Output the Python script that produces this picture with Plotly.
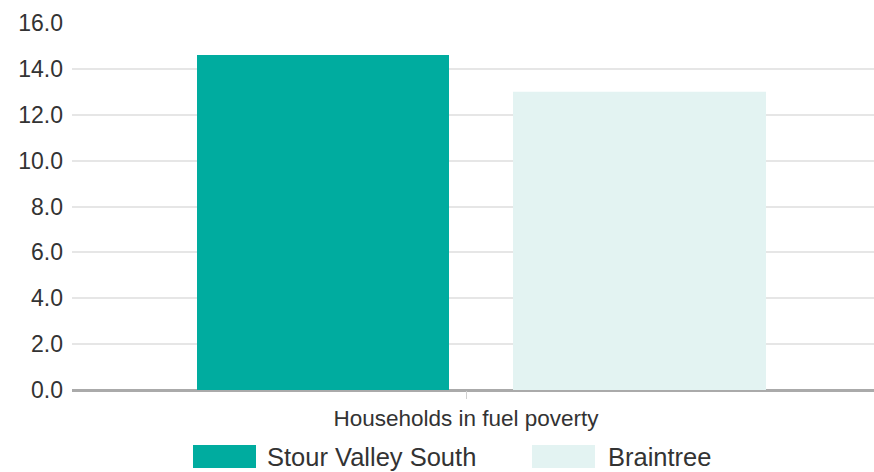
import plotly.graph_objects as go

categories = ["Households in fuel poverty"]
series_names = ["Stour Valley South", "Braintree"]
series_values = [[14.6], [13.0]]
series_colors = ["#00AC9F", "#E3F3F2"]
y_ticks = [0, 2, 4, 6, 8, 10, 12, 14, 16]

W, H = 874, 472
L, R, T, B = 72, 0, 23, 82
pw = W - L - R
ph = H - T - B

# bar layout in pixel terms -> axis units
cat_px = 466
x0 = -(cat_px - L) / pw
xr = [x0, x0 + 1]
offsets = [(197 - cat_px) / pw, (513 - cat_px) / pw]
widths = [252 / pw, 253 / pw]

fig = go.Figure()
for name, vals, col, off, w in zip(series_names, series_values, series_colors, offsets, widths):
    fig.add_trace(go.Bar(x=categories, y=vals, name=name, marker=dict(color=col, line=dict(width=0)),
                         offset=off, width=w, showlegend=False, hoverinfo="skip"))

font_fam = "Liberation Sans, Arial, sans-serif"
fig.update_layout(
    width=W, height=H, margin=dict(l=L, r=R, t=T, b=B),
    paper_bgcolor="white", plot_bgcolor="white",
    barmode="overlay",
    font=dict(family=font_fam, color="#333333"),
    xaxis=dict(type="category", range=xr, showgrid=False, ticks="outside", ticklen=8,
               tickcolor="#d0d0d0", tickfont=dict(size=22.5, color="#333333"), showline=False),
    yaxis=dict(range=[0, 16], tickvals=y_ticks, ticktext=[f"{v:.1f}" for v in y_ticks],
               showgrid=True, gridcolor="#e6e6e6", gridwidth=1.5,
               zeroline=True, zerolinecolor="#aaaaaa", zerolinewidth=3,
               tickfont=dict(size=23, color="#333333"), ticks="", ticklabelstandoff=8),
)

# custom legend
def px_x(p):
    return (p - L) / pw

def px_y(p):
    return (T + ph - p) / ph

swatches = [(193, 256, 265), (532, 595, 606)]
for (sx0, sx1, tx), name, col in zip(swatches, series_names, series_colors):
    fig.add_shape(type="rect", xref="paper", yref="paper", x0=px_x(sx0), x1=px_x(sx1),
                  y0=px_y(468), y1=px_y(445), fillcolor=col, line=dict(width=0))
    fig.add_annotation(xref="paper", yref="paper", x=px_x(tx), y=px_y(457), text=name,
                       showarrow=False, xanchor="left", yanchor="middle",
                       font=dict(size=25.5, color="#333333", family=font_fam))

fig.write_html("out.html", config={"displayModeBar": False},
               post_script="document.body.style.margin='0';document.body.style.overflow='hidden';")
